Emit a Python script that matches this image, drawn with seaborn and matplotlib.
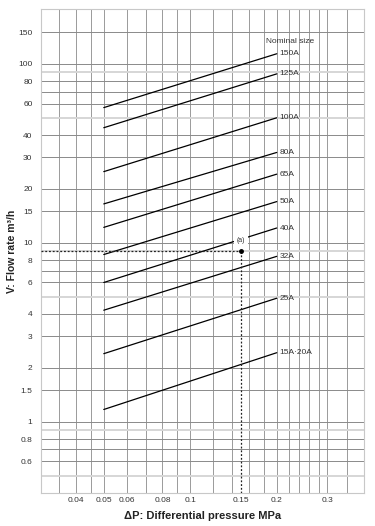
import pandas as pd
import matplotlib
matplotlib.use('Agg')
import matplotlib.pyplot as plt
import seaborn as sns

# Flow rate vs differential pressure for each nominal size
sizes = ['150A', '125A', '100A', '80A', '65A', '50A', '40A', '32A', '25A', '15A·20A']
dp_start = 0.05
dp_end = 0.2
flow_start = [57, 44, 25, 16.5, 12.2, 8.6, 6.0, 4.2, 2.4, 1.17]
flow_end = [114, 88, 50, 32, 24.2, 17.0, 12.1, 8.4, 4.9, 2.43]

# example point (a)
point_dp = 0.15
point_flow = 9

x_ticks = [0.04, 0.05, 0.06, 0.08, 0.1, 0.15, 0.2, 0.3]
x_grid = [0.035, 0.04, 0.045, 0.05, 0.06, 0.07, 0.08, 0.09, 0.1, 0.12, 0.14,
          0.16, 0.18, 0.2, 0.22, 0.24, 0.26, 0.28, 0.3, 0.35]
y_ticks = [0.6, 0.8, 1, 1.5, 2, 3, 4, 6, 8, 10, 15, 20, 30, 40, 60, 80, 100, 150]
y_grid_light = [0.5, 0.9, 5, 9, 50, 90]
y_grid = [0.6, 0.7, 0.8, 1, 1.5, 2, 3, 4, 6, 7, 8, 10, 15, 20, 30, 40, 60, 70, 80, 100, 150]

rows = []
for s, a, b in zip(sizes, flow_start, flow_end):
    rows.append({'size': s, 'dp': dp_start, 'flow': a})
    rows.append({'size': s, 'dp': dp_end, 'flow': b})
df = pd.DataFrame(rows)

sns.set_style('white')
plt.rcParams['font.family'] = ['Liberation Sans', 'DejaVu Sans']

fig = plt.figure(figsize=(3.75, 5.26), dpi=100)
ax = fig.add_axes([0.109, 0.063, 0.862, 0.920])
ax.set_xscale('log')
ax.set_yscale('log')
ax.set_xlim(0.0302, 0.403)
ax.set_ylim(0.4, 203)

for v in x_grid:
    ax.axvline(v, color='#9a9a9a', lw=0.7, zorder=0)
for v in y_grid:
    ax.axhline(v, color='#8a8a8a', lw=0.7, zorder=0)
for v in y_grid_light:
    ax.axhline(v, color='#d6d6d6', lw=1.4, zorder=0)

sns.lineplot(data=df, x='dp', y='flow', units='size', estimator=None,
             color='black', lw=0.9, legend=False, ax=ax, zorder=3)

for s, b in zip(sizes, flow_end):
    ax.annotate(s, (dp_end, b), xytext=(2, 0), textcoords='offset points',
                ha='left', va='center', fontsize=6, color='#333333')
ax.annotate('Nominal size', (dp_end, flow_end[0]), xytext=(-8, 6),
            textcoords='offset points', ha='left', va='bottom',
            fontsize=6, color='#333333')

# dotted guide lines for point (a)
ax.plot([0.0302, point_dp], [point_flow, point_flow], color='#222222',
        lw=0.9, ls=(0, (1.5, 1.5)), zorder=4)
ax.plot([point_dp, point_dp], [0.4, point_flow], color='#222222',
        lw=0.9, ls=(0, (1.5, 1.5)), zorder=4)
ax.plot([point_dp], [point_flow], 'o', color='black', ms=2.5, zorder=5)
ax.text(point_dp, point_flow * 1.1, '(a)', ha='center', va='bottom',
        fontsize=5, color='#333333', zorder=5,
        bbox=dict(facecolor='white', edgecolor='none', pad=2))

ax.set_xticks(x_ticks)
ax.set_xticklabels([f'{v:g}' for v in x_ticks])
ax.set_yticks(y_ticks)
ax.set_yticklabels([f'{v:g}' for v in y_ticks])
ax.minorticks_off()
ax.tick_params(axis='both', length=0, labelsize=6, colors='#333333')
ax.tick_params(axis='y', pad=6)
ax.tick_params(axis='x', pad=3)

for sp in ax.spines.values():
    sp.set_color('#c8c8c8')
    sp.set_linewidth(0.8)

ax.set_xlabel('ΔP: Differential pressure MPa', fontsize=8, fontweight='bold',
              color='#222222', labelpad=5)
ax.set_ylabel('V: Flow rate m³/h', fontsize=7.5, fontweight='bold',
              color='#222222')
ax.yaxis.set_label_coords(-0.075, 0.5)

fig.savefig('out.png', dpi=100)
